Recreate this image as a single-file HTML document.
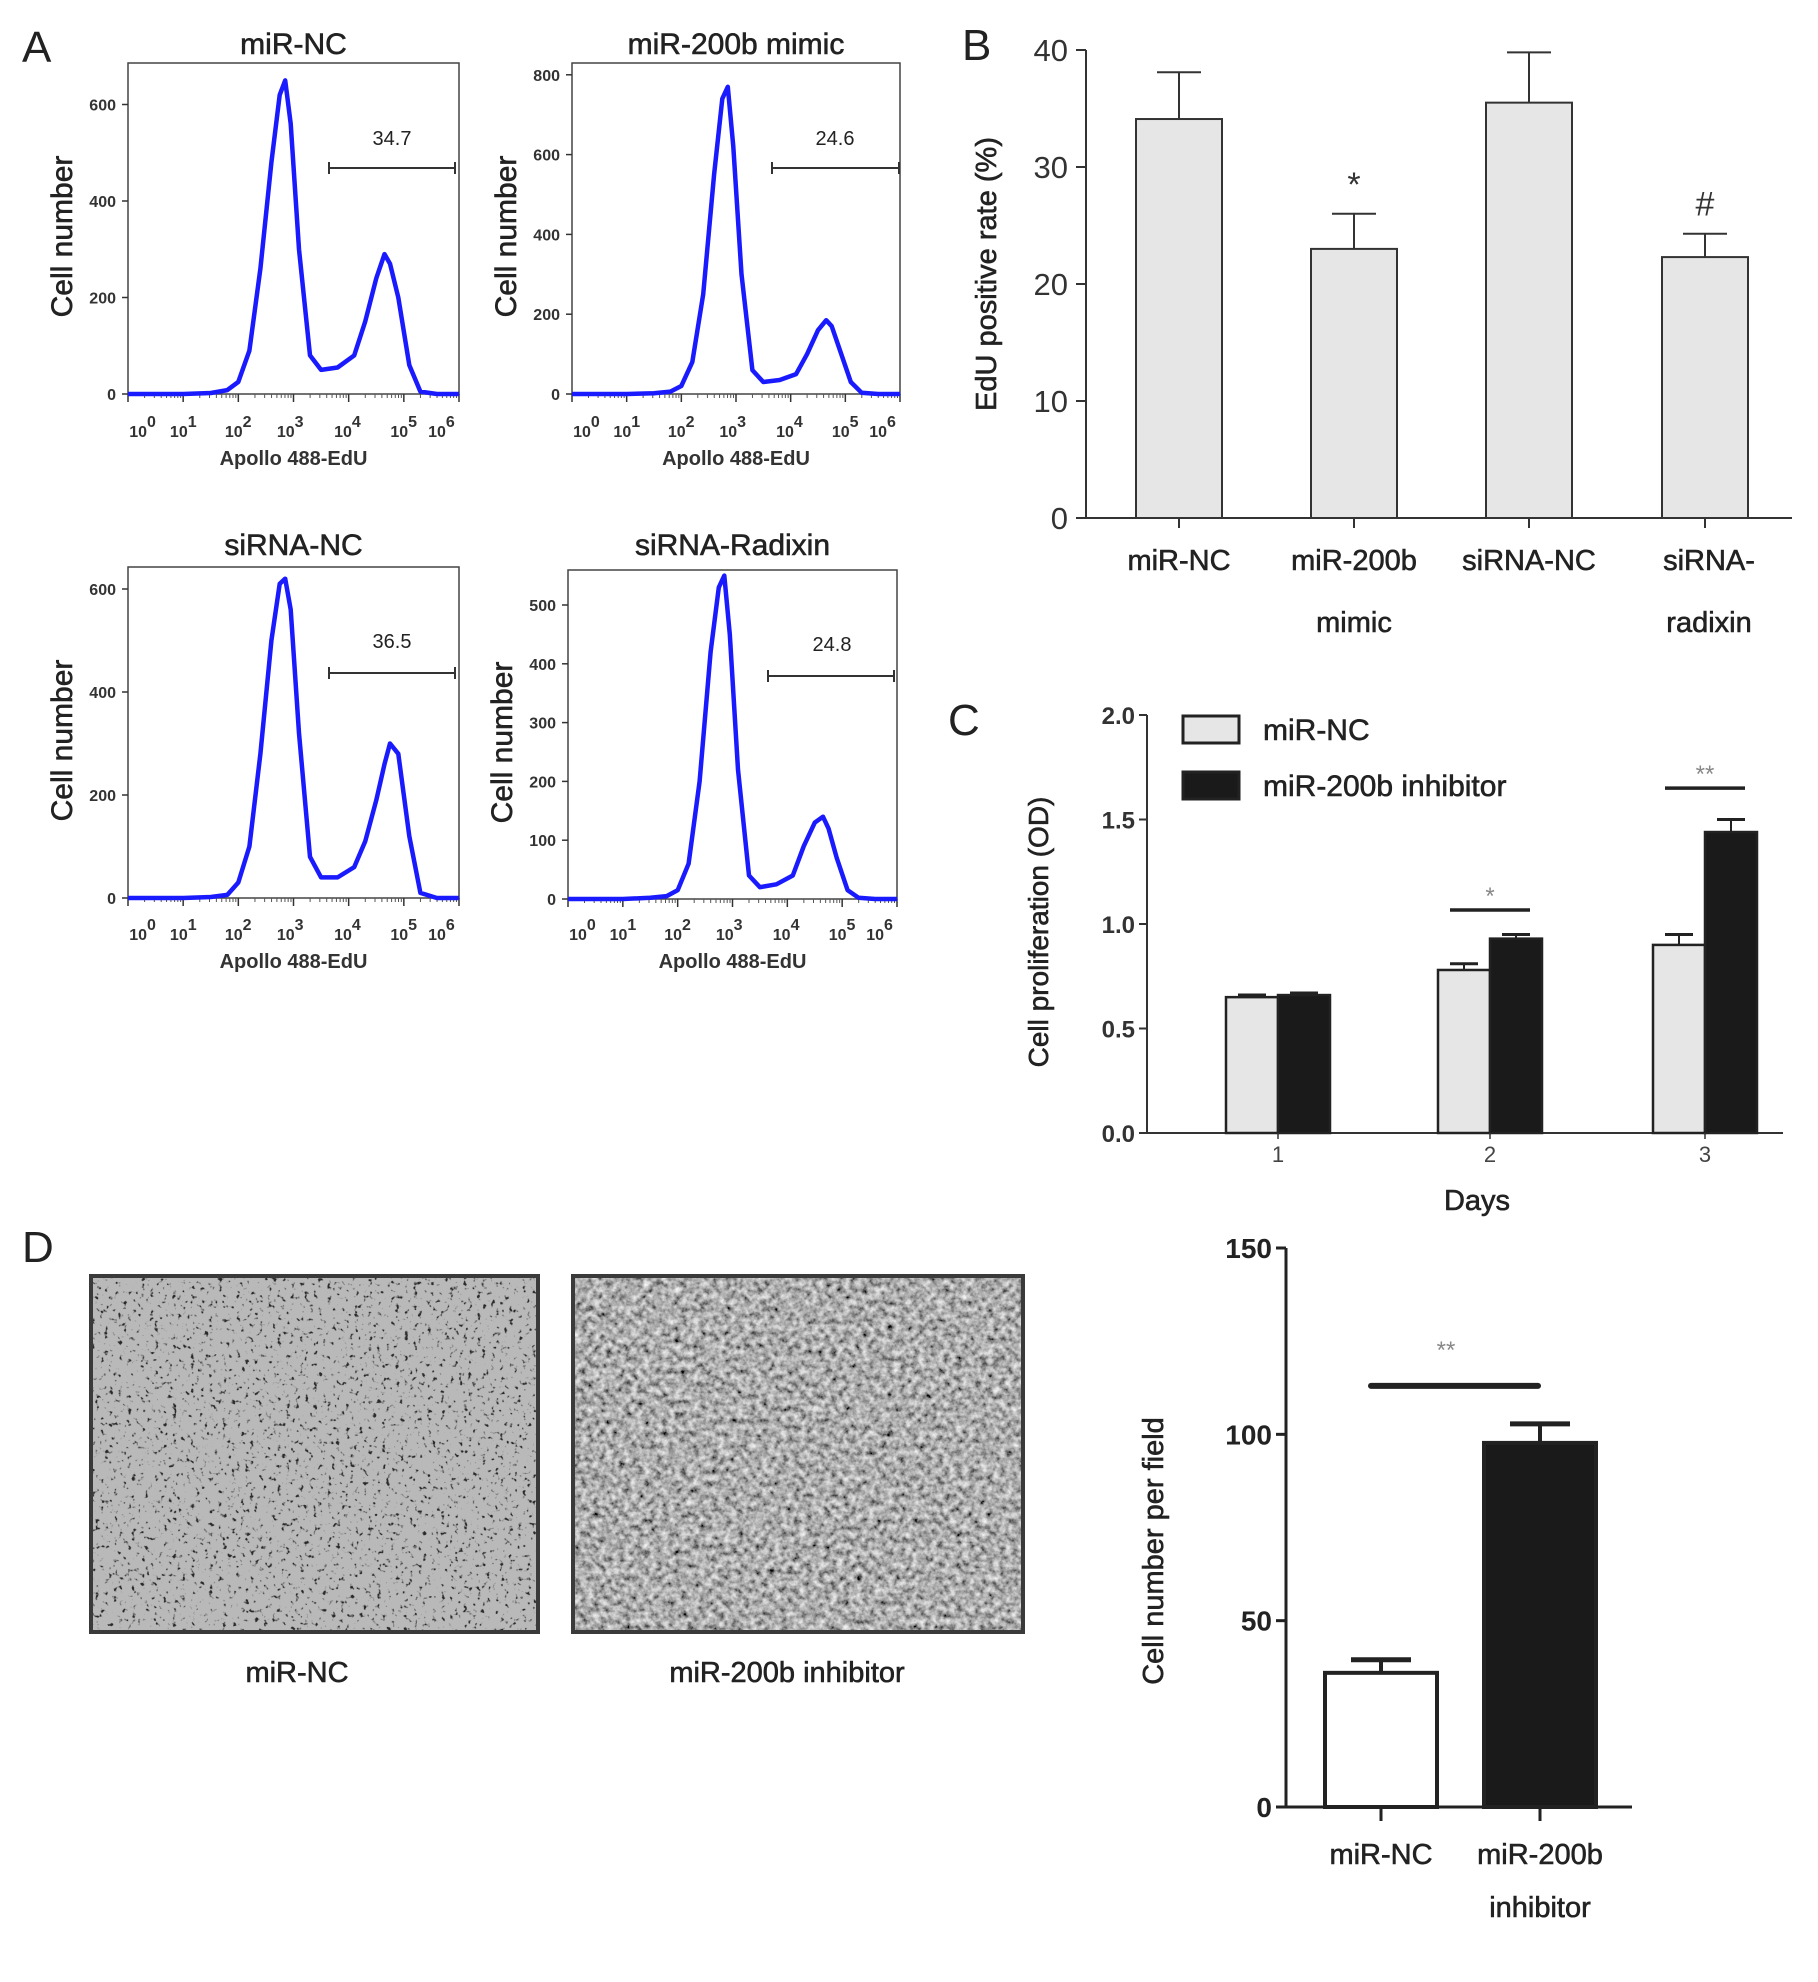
<!DOCTYPE html>
<html><head><meta charset="utf-8"><style>
html,body{margin:0;padding:0;background:#fff;}
svg{display:block;font-family:"Liberation Sans",Arial,sans-serif;}
</style></head><body>
<svg id="fig" width="1818" height="1982" viewBox="0 0 1818 1982" xmlns="http://www.w3.org/2000/svg">
<defs>
<filter id="tex1" x="0" y="0" width="100%" height="100%">
<feTurbulence type="fractalNoise" baseFrequency="0.22" numOctaves="2" seed="3" result="n"/>
<feColorMatrix in="n" type="matrix" values="0 0 0 0 0  0 0 0 0 0  0 0 0 0 0  -7 0 0 0 2.75" result="a"/>
<feFlood flood-color="#2a2a2a" result="d"/>
<feComposite in="d" in2="a" operator="in" result="specks"/>
<feFlood flood-color="#b9b9b9" result="bg"/>
<feMerge><feMergeNode in="bg"/><feMergeNode in="specks"/></feMerge>
</filter>
<filter id="tex2" x="0" y="0" width="100%" height="100%">
<feTurbulence type="fractalNoise" baseFrequency="0.16" numOctaves="3" seed="7" result="n"/>
<feColorMatrix in="n" type="matrix" values="1.2 0 0 0 -0.18  1.2 0 0 0 -0.18  1.2 0 0 0 -0.18  0 0 0 0 1"/>
</filter>
</defs>
<g id="root"></g>
</svg>
<script>
// ---------- Panel A data (flow histograms) ----------
const histX = [0,1,1.5,1.8,2.0,2.2,2.4,2.6,2.75,2.85,2.95,3.1,3.3,3.5,3.8,4.1,4.3,4.5,4.65,4.75,4.9,5.1,5.3,5.6,6];
const histMiRNC = [0,0,2,8,25,90,260,480,620,650,560,300,80,50,55,80,150,240,290,270,200,60,5,0,0];
const histMimic = [0,0,2,6,20,80,250,550,740,770,620,300,60,30,35,50,100,160,185,170,110,30,3,0,0];
const histSiNC = [0,0,2,6,30,100,280,500,610,620,560,320,80,40,40,60,110,190,260,300,280,120,10,0,0];
const histSiRdx = [0,0,2,5,15,60,200,420,530,550,450,220,40,20,25,40,90,130,140,120,70,15,2,0,0];
const gateValues = ["34.7","24.6","36.5","24.8"];
const ticksA1 = [0,200,400,600];
const ticksA2 = [0,200,400,600,800];
const ticksA3 = [0,200,400,600];
const ticksA4 = [0,100,200,300,400,500];
// ---------- Panel B data ----------
const bCats = [["miR-NC"],["miR-200b","mimic"],["siRNA-NC"],["siRNA-","radixin"]];
const bVals = [34.1,23.0,35.5,22.3];
const bErr = [38.1,26.0,39.8,24.3];
const bMarks = ["","*","","#"];
const bTicks = [0,10,20,30,40];
// ---------- Panel C data ----------
const cDays = ["1","2","3"];
const cNC = [0.65,0.78,0.90];
const cNCerr = [0.66,0.81,0.95];
const cInh = [0.66,0.93,1.44];
const cInhErr = [0.67,0.95,1.50];
const cSig = ["","*","**"];
const cSigLevel = [0,1.067,1.65];
const cTicks = ["0.0","0.5","1.0","1.5","2.0"];
// ---------- Panel D data ----------
const dCats = [["miR-NC"],["miR-200b","inhibitor"]];
const dVals = [36,97.7];
const dErr = [39.5,102.8];
const dTicks = [0,50,100,150];
const dSigLevel = 113;

const NS="http://www.w3.org/2000/svg";
const root=document.getElementById('root');
function el(tag,attrs,parent,text){const e=document.createElementNS(NS,tag);for(const k in attrs)e.setAttribute(k,attrs[k]);if(text!==undefined)e.textContent=text;(parent||root).appendChild(e);return e;}
const TS={stroke:'#222','stroke-width':0.6};

// Panel letters
[["A",22,62],["B",962,60],["C",948,735],["D",22,1262]].forEach(p=>{
 const t=el('text',{x:p[1],y:p[2],'font-size':44,fill:'#222'},root,p[0]);
 
 
});

// ---------- Panel A ----------
const panelsA=[
 {title:"miR-NC",L:128,R:459,T:63,B:394,max:600,px:0.4825,ticks:ticksA1,data:histMiRNC,g0:329,g1:455,gy:168,lx:392,ly:145,xl:437,xt:465,ty:44},
 {title:"miR-200b  mimic",L:572,R:900,T:63,B:394,max:800,px:0.399,ticks:ticksA2,data:histMimic,g0:772,g1:899,gy:168,lx:835,ly:145,xl:437,xt:465,ty:44},
 {title:"siRNA-NC",L:128,R:459,T:567,B:898,max:600,px:0.515,ticks:ticksA3,data:histSiNC,g0:329,g1:455,gy:673,lx:392,ly:648,xl:940,xt:968,ty:545},
 {title:"siRNA-Radixin",L:568,R:897,T:570,B:899,max:500,px:0.588,ticks:ticksA4,data:histSiRdx,g0:768,g1:894,gy:676,lx:832,ly:651,xl:940,xt:968,ty:545}
];
const decadeFrac=[0.044,0.167,0.333,0.49,0.663,0.833,0.947];
panelsA.forEach((p,i)=>{
 const g=el('g',{});
 
 
 const xs=v=>p.L+(p.R-p.L)*v/6, ys=v=>p.B-v*p.px;
 const box=el('rect',{x:p.L,y:p.T,width:p.R-p.L,height:p.B-p.T,fill:'none',stroke:'#444','stroke-width':1.5},g);
 
 
 const tt=el('text',Object.assign({x:(p.L+p.R)/2,y:p.ty+10,'font-size':30,'text-anchor':'middle',fill:'#222'},TS),g,p.title);
 
 
 const yl=el('text',Object.assign({x:0,y:0,'font-size':30,'text-anchor':'middle',fill:'#222',transform:`translate(${p.L-56},${(p.T+p.B)/2+8}) rotate(-90)`},TS),g,"Cell number");
 
 
 p.ticks.forEach(t=>{
  el('line',{x1:p.L-6,x2:p.L,y1:ys(t),y2:ys(t),stroke:'#333','stroke-width':1.5},g);
  const lb=el('text',{x:p.L-12,y:ys(t)+6,'font-size':16,'font-weight':'bold','text-anchor':'end',fill:'#333'},g,String(t));
  
  
 });
 for(let d=0;d<=6;d++){
  el('line',{x1:xs(d),x2:xs(d),y1:p.B,y2:p.B+8,stroke:'#333','stroke-width':1.5},g);
  if(d<6)for(let m=2;m<10;m++){const xv=xs(d+Math.log10(m));el('line',{x1:xv,x2:xv,y1:p.B,y2:p.B+4,stroke:'#555','stroke-width':1},g);}
  const tx=p.L+(p.R-p.L)*decadeFrac[d];
  const lb=el('text',{x:tx,y:p.xl,'font-size':16,'font-weight':'bold','text-anchor':'middle',fill:'#333'},g);
  
  
  el('tspan',{},lb,'10');
  el('tspan',{dy:-10,'font-size':16},lb,String(d));
 }
 const xt=el('text',{x:(p.L+p.R)/2,y:p.xt,'font-size':20,'font-weight':'bold','text-anchor':'middle',fill:'#333'},g,"Apollo 488-EdU");
 
 
 let d='';histX.forEach((x,k)=>{d+=(k?'L':'M')+xs(x).toFixed(1)+','+ys(p.data[k]).toFixed(1);});
 const path=el('path',{d:d,fill:'none',stroke:'#1a1aff','stroke-width':4.5,'stroke-linejoin':'round'},g);
 
 
 el('line',{x1:p.g0,x2:p.g1,y1:p.gy,y2:p.gy,stroke:'#333','stroke-width':2},g);
 el('line',{x1:p.g0,x2:p.g0,y1:p.gy-6,y2:p.gy+6,stroke:'#333','stroke-width':2},g);
 el('line',{x1:p.g1,x2:p.g1,y1:p.gy-6,y2:p.gy+6,stroke:'#333','stroke-width':2},g);
 const gl=el('text',{x:p.lx,y:p.ly,'font-size':20,'text-anchor':'middle',fill:'#222'},g,gateValues[i]);
 
 
});

// ---------- Panel B ----------
(function(){
 const g=el('g',{});
 
 
 const L=1086,R=1792,y0=518,y40=50;
 const ys=v=>y0-(y0-y40)*v/40;
 const centers=[1179,1354,1529,1705];
 el('line',{x1:L,x2:L,y1:y40,y2:y0,stroke:'#333','stroke-width':2},g);
 el('line',{x1:L,x2:R,y1:y0,y2:y0,stroke:'#333','stroke-width':2},g);
 bTicks.forEach(t=>{
  el('line',{x1:L-10,x2:L,y1:ys(t),y2:ys(t),stroke:'#333','stroke-width':2},g);
  const lb=el('text',{x:L-18,y:ys(t)+11,'font-size':31,'text-anchor':'end',fill:'#333'},g,String(t));
  
  
 });
 const yl=el('text',Object.assign({x:0,y:0,'font-size':29,'text-anchor':'middle',fill:'#222',transform:`translate(996,${(y0+y40)/2-10}) rotate(-90)`},TS),g,"EdU positive rate (%)");
 
 
 bVals.forEach((v,i)=>{
  const c=centers[i];
  el('line',{x1:c,x2:c,y1:ys(v),y2:ys(bErr[i]),stroke:'#333','stroke-width':2},g);
  el('line',{x1:c-22,x2:c+22,y1:ys(bErr[i]),y2:ys(bErr[i]),stroke:'#333','stroke-width':2},g);
  const b=el('rect',{x:c-43,y:ys(v),width:86,height:y0-ys(v),fill:'#e6e6e6',stroke:'#333','stroke-width':2},g);
  
  
  el('line',{x1:c,x2:c,y1:y0,y2:y0+10,stroke:'#333','stroke-width':2},g);
  bCats[i].forEach((s,k)=>{
   const lb=el('text',Object.assign({x:c+(i==3?4:0),y:570+k*62,'font-size':29,'text-anchor':'middle',fill:'#222'},TS),g,s);
   
   
  });
  if(bMarks[i]){
   const m=el('text',{x:c,y:ys(bErr[i])-18,'font-size':34,'text-anchor':'middle',fill:'#333'},g,bMarks[i]);
   
   
  }
 });
})();

// ---------- Panel C ----------
(function(){
 const g=el('g',{});
 
 
 const L=1147,R=1783,y0=1133,yT=715;
 const ys=v=>y0-(y0-yT)*v/2;
 const centers=[1278,1490,1705];
 el('line',{x1:L,x2:L,y1:yT,y2:y0,stroke:'#333','stroke-width':2},g);
 el('line',{x1:L,x2:R,y1:y0,y2:y0,stroke:'#333','stroke-width':2},g);
 cTicks.forEach(t=>{
  const v=parseFloat(t);
  el('line',{x1:L-8,x2:L,y1:ys(v),y2:ys(v),stroke:'#333','stroke-width':2},g);
  const lb=el('text',{x:L-12,y:ys(v)+9,'font-size':24,'font-weight':'bold','text-anchor':'end',fill:'#333'},g,t);
  
  
 });
 const yl=el('text',Object.assign({x:0,y:0,'font-size':28,'text-anchor':'middle',fill:'#222',transform:`translate(1048,${(y0+yT)/2+8}) rotate(-90)`},TS),g,"Cell proliferation (OD)");
 
 
 cDays.forEach((d,i)=>{
  const c=centers[i];
  [[cNC,cNCerr,'#e6e6e6',-1,'mir-nc'],[cInh,cInhErr,'#1a1a1a',1,'inhibitor']].forEach(s=>{
   const v=s[0][i],e=s[1][i];
   const bx=s[3]<0?c-52:c;
   const mx=bx+26;
   el('line',{x1:mx,x2:mx,y1:ys(v),y2:ys(e),stroke:'#222','stroke-width':2},g);
   el('line',{x1:mx-14,x2:mx+14,y1:ys(e),y2:ys(e),stroke:'#222','stroke-width':3},g);
   const b=el('rect',{x:bx,y:ys(v),width:52,height:y0-ys(v),fill:s[2],stroke:'#222','stroke-width':2.5},g);
   
   
  });
  el('line',{x1:c,x2:c,y1:y0,y2:y0+6,stroke:'#333','stroke-width':1.5},g);
  const lb=el('text',{x:c,y:1162,'font-size':22,'text-anchor':'middle',fill:'#444'},g,d);
  
  
  if(cSig[i]){
   const y=ys(cSigLevel[i]);
   el('line',{x1:c-40,x2:c+40,y1:y,y2:y,stroke:'#222','stroke-width':3.5},g);
   const m=el('text',{x:c,y:y-6,'font-size':24,'text-anchor':'middle',fill:'#888'},g,cSig[i]);
   
   
  }
 });
 const xt=el('text',Object.assign({x:1477,y:1210,'font-size':29,'text-anchor':'middle',fill:'#222'},TS),g,"Days");
 
 
 const lg=el('g',{},g);
 
 
 el('rect',{x:1183,y:716,width:56,height:27,fill:'#e6e6e6',stroke:'#222','stroke-width':3},lg);
 el('rect',{x:1183,y:772,width:56,height:27,fill:'#1a1a1a',stroke:'#222','stroke-width':3},lg);
 const l1=el('text',Object.assign({x:1263,y:740,'font-size':30,fill:'#222'},TS),lg,"miR-NC");
 
 
 const l2=el('text',Object.assign({x:1263,y:796,'font-size':30,fill:'#222'},TS),lg,"miR-200b inhibitor");
 
 
})();

// ---------- Panel D images ----------
[[91,538,"tex1","miR-NC",297,'micrograph-mir-nc'],[573,1023,"tex2","miR-200b inhibitor",787,'micrograph-inhibitor']].forEach(m=>{
 const r=el('rect',{x:m[0],y:1276,width:m[1]-m[0],height:356,filter:`url(#${m[2]})`,stroke:'none'});
 
 
 el('rect',{x:m[0],y:1276,width:m[1]-m[0],height:356,fill:'none',stroke:'#3a3a3a','stroke-width':4});
 const t=el('text',Object.assign({x:m[4],y:1682,'font-size':29,'text-anchor':'middle',fill:'#222'},TS),root,m[3]);
 
 
});

// ---------- Panel D chart ----------
(function(){
 const g=el('g',{});
 
 
 const L=1286,R=1632,y0=1807,yT=1248;
 const ys=v=>y0-(y0-yT)*v/150;
 const centers=[1381,1540];
 el('line',{x1:L,x2:L,y1:yT,y2:y0,stroke:'#222','stroke-width':3},g);
 el('line',{x1:L,x2:R,y1:y0,y2:y0,stroke:'#222','stroke-width':3},g);
 dTicks.forEach(t=>{
  el('line',{x1:L-10,x2:L,y1:ys(t),y2:ys(t),stroke:'#222','stroke-width':3},g);
  const lb=el('text',{x:L-14,y:ys(t)+10,'font-size':28,'font-weight':'bold','text-anchor':'end',fill:'#222'},g,String(t));
  
  
 });
 const yl=el('text',Object.assign({x:0,y:0,'font-size':29,'text-anchor':'middle',fill:'#222',transform:`translate(1163,1551) rotate(-90)`},TS),g,"Cell number per field");
 
 
 dVals.forEach((v,i)=>{
  const c=centers[i];
  el('line',{x1:c,x2:c,y1:ys(v),y2:ys(dErr[i]),stroke:'#222','stroke-width':4},g);
  el('line',{x1:c-30,x2:c+30,y1:ys(dErr[i]),y2:ys(dErr[i]),stroke:'#222','stroke-width':5},g);
  const b=el('rect',{x:c-56,y:ys(v),width:112,height:y0-ys(v),fill:i?'#1a1a1a':'#fff',stroke:'#222','stroke-width':4},g);
  
  
  el('line',{x1:c,x2:c,y1:y0,y2:y0+14,stroke:'#222','stroke-width':3},g);
  dCats[i].forEach((s,k)=>{
   const lb=el('text',Object.assign({x:c,y:1864+k*53,'font-size':29,'text-anchor':'middle',fill:'#222'},TS),g,s);
   
   
  });
 });
 const y=ys(dSigLevel);
 el('line',{x1:1371,x2:1538,y1:y,y2:y,stroke:'#222','stroke-width':6,'stroke-linecap':'round'},g);
 const m=el('text',{x:1446,y:y-28,'font-size':24,'text-anchor':'middle',fill:'#888'},g,"**");
 
 
})();
</script>
</body></html>
